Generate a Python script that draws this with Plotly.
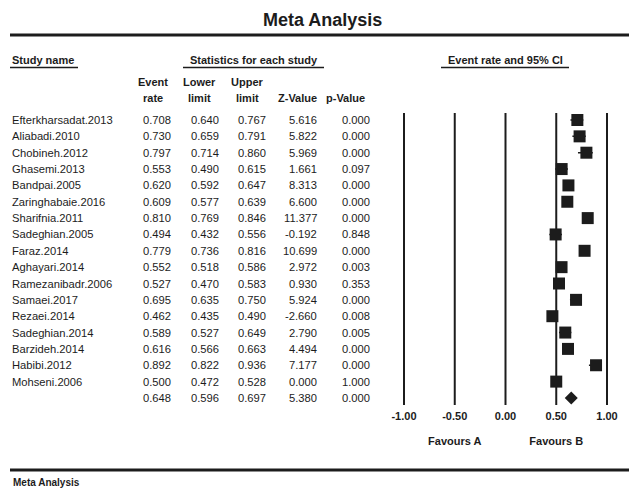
import plotly.graph_objects as go

W, H = 629, 489

studies = ["Efterkharsadat.2013", "Aliabadi.2010", "Chobineh.2012", "Ghasemi.2013",
           "Bandpai.2005", "Zaringhabaie.2016", "Sharifnia.2011", "Sadeghian.2005",
           "Faraz.2014", "Aghayari.2014", "Ramezanibadr.2006", "Samaei.2017",
           "Rezaei.2014", "Sadeghian.2014", "Barzideh.2014", "Habibi.2012", "Mohseni.2006"]
event_rate = [0.708, 0.730, 0.797, 0.553, 0.620, 0.609, 0.810, 0.494, 0.779, 0.552,
              0.527, 0.695, 0.462, 0.589, 0.616, 0.892, 0.500]
lower = [0.640, 0.659, 0.714, 0.490, 0.592, 0.577, 0.769, 0.432, 0.736, 0.518,
         0.470, 0.635, 0.435, 0.527, 0.566, 0.822, 0.472]
upper = [0.767, 0.791, 0.860, 0.615, 0.647, 0.639, 0.846, 0.556, 0.816, 0.586,
         0.583, 0.750, 0.490, 0.649, 0.663, 0.936, 0.528]
z_value = [5.616, 5.822, 5.969, 1.661, 8.313, 6.600, 11.377, -0.192, 10.699, 2.972,
           0.930, 5.924, -2.660, 2.790, 4.494, 7.177, 0.000]
p_value = [0.000, 0.000, 0.000, 0.097, 0.000, 0.000, 0.000, 0.848, 0.000, 0.003,
           0.353, 0.000, 0.008, 0.005, 0.000, 0.000, 1.000]
summary = {"rate": 0.648, "lower": 0.596, "upper": 0.697, "z": 5.380, "p": 0.000}
tick_vals = [-1.0, -0.5, 0.0, 0.5, 1.0]
tick_text = ["-1.00", "-0.50", "0.00", "0.50", "1.00"]

INK = "#1c1c1c"
ROW0, ROWH = 120.0, 16.35  # pixel y of first row, row pitch


def py(p):
    """pixel y (from top) -> paper fraction"""
    return 1 - p / H


def px(p):
    return p / W


def row_of(p):
    return (p - ROW0) / ROWH


n = len(studies)
rows = list(range(n))
sum_row = n

fig = go.Figure()

# study squares with CI whiskers
fig.add_trace(go.Scatter(
    x=event_rate, y=rows, mode="markers",
    marker=dict(symbol="square", size=12, color=INK),
    error_x=dict(type="data", symmetric=False,
                 array=[u - r for u, r in zip(upper, event_rate)],
                 arrayminus=[r - l for r, l in zip(event_rate, lower)],
                 color=INK, thickness=1.5, width=0),
    cliponaxis=False, hoverinfo="skip", showlegend=False))

# summary diamond
fig.add_trace(go.Scatter(
    x=[summary["rate"]], y=[sum_row], mode="markers",
    marker=dict(symbol="diamond", size=10, color=INK),
    cliponaxis=False, hoverinfo="skip", showlegend=False))

# tick labels
fig.add_trace(go.Scatter(
    x=tick_vals, y=[row_of(417)] * len(tick_vals), mode="text",
    text=[f"<b>{t}</b>" for t in tick_text],
    textfont=dict(family="Liberation Sans, Arial", size=11, color=INK),
    textposition="middle center", cliponaxis=False, hoverinfo="skip", showlegend=False))

# favours labels
fig.add_trace(go.Scatter(
    x=[-0.5, 0.5], y=[row_of(442)] * 2, mode="text", text=["<b>Favours A</b>", "<b>Favours B</b>"],
    textfont=dict(family="Liberation Sans, Arial", size=11, color=INK),
    textposition="middle center", cliponaxis=False, hoverinfo="skip", showlegend=False))

shapes = []
# vertical reference lines
for t in tick_vals:
    shapes.append(dict(type="line", xref="x", yref="y", x0=t, x1=t,
                       y0=row_of(113), y1=row_of(405), line=dict(color=INK, width=2)))
# thick horizontal rules
for yp in (35, 470):
    shapes.append(dict(type="line", xref="paper", yref="paper", x0=px(10), x1=1.0,
                       y0=py(yp), y1=py(yp), line=dict(color=INK, width=3)))
# header underlines
for x0, x1 in ((10, 78), (183, 324), (441, 569)):
    shapes.append(dict(type="line", xref="paper", yref="paper", x0=px(x0), x1=px(x1),
                       y0=py(67.5), y1=py(67.5), line=dict(color=INK, width=1.5)))

ann = []


def add_text(x, y, text, size=11, xanchor="center", bold=False, yref="paper"):
    t = f"<b>{text}</b>" if bold else text
    ann.append(dict(x=px(x), y=y, xref="paper", yref=yref, text=t, showarrow=False,
                    xanchor=xanchor, yanchor="middle",
                    font=dict(family="Liberation Sans, Arial", size=size, color=INK)))


add_text(322, py(20), "Meta Analysis", size=18, bold=True)
add_text(10, py(60), "Study name", bold=True, xanchor="left")
add_text(254, py(60), "Statistics for each study", bold=True)
add_text(505, py(60), "Event rate and 95% CI", bold=True)
for cx, l1, l2 in ((153, "Event", "rate"), (199, "Lower", "limit"), (247, "Upper", "limit"),
                   (297, None, "Z-Value"), (345, None, "p-Value")):
    if l1:
        add_text(cx, py(82), l1, bold=True)
    add_text(cx, py(98), l2, bold=True)
add_text(11, py(482), "Meta Analysis", size=10, bold=True, xanchor="left")

NUM = 11.2
col_right = [173, 221, 268, 319, 372]
for i in range(n):
    add_text(10, i, studies[i], size=NUM, xanchor="left", yref="y")
    vals = [event_rate[i], lower[i], upper[i], z_value[i], p_value[i]]
    for xr, v in zip(col_right, vals):
        add_text(xr, i, f"{v:.3f}", size=NUM, xanchor="right", yref="y")
for xr, v in zip(col_right, [summary["rate"], summary["lower"], summary["upper"],
                             summary["z"], summary["p"]]):
    add_text(xr, sum_row, f"{v:.3f}", size=NUM, xanchor="right", yref="y")

# axis mapping: x -1 -> 404px, 1 -> 607px
scale = (607 - 404) / 2.0
xc = 505.5
xr0, xr1 = -1.2, 1.2
dom0 = (xc + xr0 * scale) / W
dom1 = (xc + xr1 * scale) / W

fig.update_layout(
    width=W, height=H, margin=dict(l=0, r=0, t=0, b=0),
    paper_bgcolor="white", plot_bgcolor="white",
    xaxis=dict(domain=[dom0, dom1], range=[xr0, xr1], visible=False, fixedrange=True),
    yaxis=dict(domain=[0, 1], range=[row_of(H), row_of(0)], visible=False, fixedrange=True),
    shapes=shapes, annotations=ann, showlegend=False,
)

fig.write_html("out.html", config={"displayModeBar": False},
               post_script="document.body.style.margin='0';document.body.style.overflow='hidden';")
